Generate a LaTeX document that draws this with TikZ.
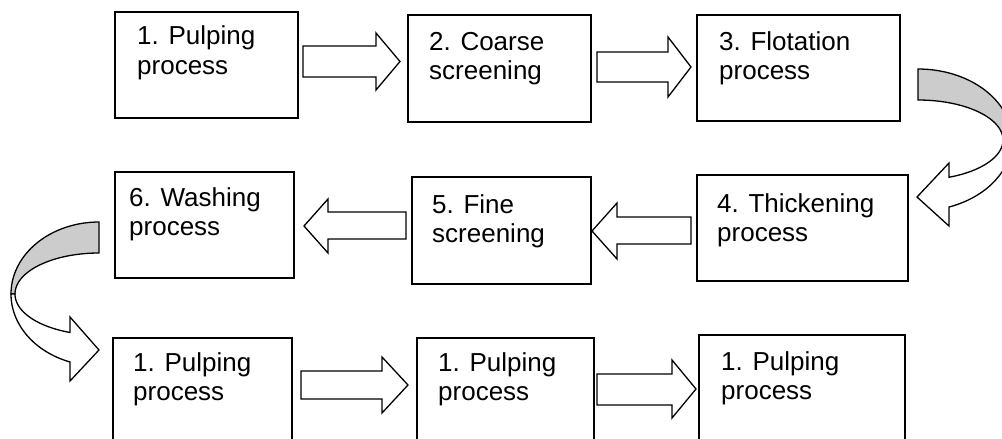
\documentclass[tikz,border=0pt]{standalone}
\usepackage{fontspec}
\setmainfont{Liberation Sans}
\begin{document}
\begin{tikzpicture}[x=1pt,y=-1pt,
  box/.style={draw, line width=1.7pt, inner sep=0pt, anchor=north west},
  lbl/.style={anchor=base west, inner sep=0pt, align=left, font=\fontsize{26}{29}\selectfont},
  blk/.style={draw, line width=1.3pt, fill=white, line join=miter},
  back/.style={draw, line width=1.3pt, fill=black!20, line join=miter}]
\path[use as bounding box] (0,0) rectangle (1002,439);
\clip (0,0) rectangle (1002,439);
% boxes
\node[box, minimum width=183pt, minimum height=106pt] (b1) at (114,11) {};
\node[box, minimum width=183pt, minimum height=107pt] (b2) at (407,14) {};
\node[box, minimum width=203pt, minimum height=106pt] (b3) at (696,14) {};
\node[box, minimum width=211pt, minimum height=106pt] (b4) at (696,174) {};
\node[box, minimum width=179pt, minimum height=107pt] (b5) at (411,176) {};
\node[box, minimum width=179pt, minimum height=106pt] (b6) at (114,171) {};
\node[box, minimum width=179pt, minimum height=110pt] (b7) at (112,337) {};
\node[box, minimum width=177pt, minimum height=110pt] (b8) at (416,337) {};
\node[box, minimum width=206pt, minimum height=112pt] (b9) at (698,334) {};
% labels (anchor is the baseline of the last line)
\node[lbl] (t1) at (137,74) {1. Pulping\\process};
\node[lbl] (t2) at (429,79) {2. Coarse\\screening};
\node[lbl] (t3) at (719,79) {3. Flotation\\process};
\node[lbl] (t4) at (717,241) {4. Thickening\\process};
\node[lbl] (t5) at (432,242) {5. Fine\\screening};
\node[lbl] (t6) at (129,235) {6. Washing\\process};
\node[lbl] (t7) at (133,400) {1. Pulping\\process};
\node[lbl] (t8) at (438,400) {1. Pulping\\process};
\node[lbl] (t9) at (721,399) {1. Pulping\\process};
% straight block arrows
\draw[blk] (303,46) -- (376,46) -- (376,33) -- (400,61.5) -- (376,90) -- (376,77) -- (303,77) -- cycle;
\draw[blk] (597,52) -- (668,52) -- (668,37) -- (691,67) -- (668,97) -- (668,82) -- (597,82) -- cycle;
\draw[blk] (691,217) -- (617,217) -- (617,203) -- (592,231) -- (617,259) -- (617,244) -- (691,244) -- cycle;
\draw[blk] (406,212) -- (328,212) -- (328,199) -- (304,226) -- (328,253) -- (328,239) -- (406,239) -- cycle;
\draw[blk] (301,371) -- (382,371) -- (382,357) -- (408,385) -- (382,413) -- (382,399) -- (301,399) -- cycle;
\draw[blk] (597,374) -- (672,374) -- (672,360) -- (696,389) -- (672,418) -- (672,405) -- (597,405) -- cycle;
% curved arrow 3 -> 4
\draw[back] plot[variable=\t, domain=-90:0, samples=40] ({918+94*cos(\t)},{140+71*sin(\t)})
  -- plot[variable=\t, domain=0:-90, samples=40] ({918+85*cos(\t)},{140+40*sin(\t)}) -- cycle;
\draw[blk] plot[variable=\t, domain=68.6:0, samples=40] ({918+85*cos(\t)},{140+40*sin(\t)})
  -- plot[variable=\t, domain=0:70.7, samples=40] ({918+94*cos(\t)},{140+71*sin(\t)})
  -- (949,226) -- (917,197) -- (949,163) -- cycle;
% curved arrow 6 -> next row
\draw[back] plot[variable=\t, domain=-90:-180, samples=40] ({99+88*cos(\t)},{294+72*sin(\t)})
  -- plot[variable=\t, domain=-180:-90, samples=40] ({99+84*cos(\t)},{294+41*sin(\t)}) -- cycle;
\draw[blk] plot[variable=\t, domain=110.2:180, samples=40] ({99+84*cos(\t)},{294+41*sin(\t)})
  -- plot[variable=\t, domain=180:109.2, samples=40] ({99+88*cos(\t)},{294+72*sin(\t)})
  -- (70,381) -- (99,350) -- (70,317) -- cycle;
\end{tikzpicture}
\end{document}
